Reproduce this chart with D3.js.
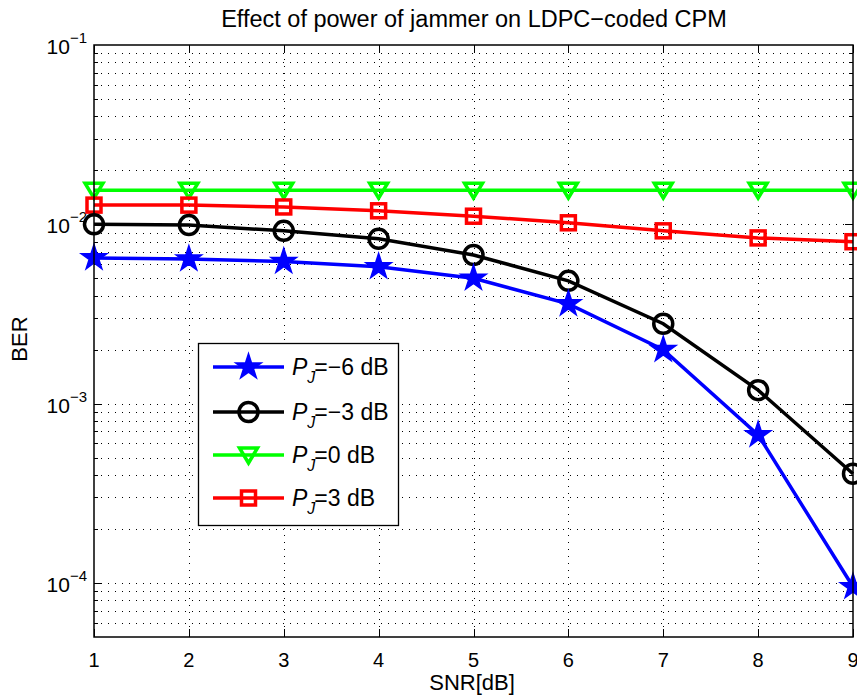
<!DOCTYPE html>
<html>
<head>
<meta charset="UTF-8">
<script src="https://d3js.org/d3.v7.min.js"></script>
<style>
  body { margin: 0; background: #fff; }
  text { font-family: "Liberation Sans", Arial, sans-serif; }
</style>
</head>
<body>
<svg width="857" height="700"></svg>
<script>
  // data
  const snr = [1, 2, 3, 4, 5, 6, 7, 8, 9];
  const berM6 = [0.0065, 0.0064, 0.0062, 0.0058, 0.0050, 0.0036, 0.0020, 0.00067, 0.0000953];
  const berM3 = [0.0100, 0.0099, 0.0092, 0.0083, 0.00675, 0.00484, 0.00279, 0.00119, 0.000407];
  const ber0  = [0.0155, 0.0155, 0.0155, 0.0155, 0.0155, 0.0155, 0.0155, 0.0155, 0.0155];
  const berP3 = [0.0128, 0.0128, 0.0125, 0.0119, 0.0111, 0.0102, 0.0092, 0.0084, 0.0080];
  const xTicks = [1, 2, 3, 4, 5, 6, 7, 8, 9];
  const yDecades = [-4, -3, -2, -1];
  const legendLabels = ["\u22126", "\u22123", "0", "3"];

  const svg = d3.select("svg");
  const pLeft = 94, pRight = 853, pTop = 45, pBottom = 637;

  const x = d3.scaleLinear().domain([1, 9]).range([pLeft, pRight]);
  const y = d3.scaleLog().domain([5e-5, 1e-1]).range([pBottom, pTop]);

  // grid
  const grid = svg.append("g").attr("stroke", "#000").attr("stroke-width", 1)
    .attr("stroke-dasharray", "1,6");
  const minor = [];
  for (let e = -5; e < -1; e++) for (let m = 1; m < 10; m++) {
    const v = m * Math.pow(10, e);
    if (v > 5e-5 && v < 0.1) minor.push(v);
  }
  grid.selectAll("line.h").data(minor).enter().append("line")
    .attr("x1", pLeft).attr("x2", pRight)
    .attr("y1", d => Math.round(y(d)) + 0.5).attr("y2", d => Math.round(y(d)) + 0.5);
  grid.selectAll("line.v").data(xTicks.slice(1, -1)).enter().append("line")
    .attr("y1", pTop).attr("y2", pBottom)
    .attr("x1", d => Math.round(x(d)) + 0.5).attr("x2", d => Math.round(x(d)) + 0.5);

  // ticks (inward, all four sides)
  const ticks = svg.append("g").attr("stroke", "#000").attr("stroke-width", 1);
  minor.forEach(v => {
    const isMajor = Math.abs(Math.log10(v) - Math.round(Math.log10(v))) < 1e-6;
    const len = isMajor ? 8 : 4;
    const yy = Math.round(y(v)) + 0.5;
    ticks.append("line").attr("x1", pLeft).attr("x2", pLeft + len).attr("y1", yy).attr("y2", yy);
    ticks.append("line").attr("x1", pRight).attr("x2", pRight - len).attr("y1", yy).attr("y2", yy);
  });
  xTicks.forEach(v => {
    const xx = Math.round(x(v)) + 0.5;
    ticks.append("line").attr("x1", xx).attr("x2", xx).attr("y1", pBottom).attr("y2", pBottom - 8);
    ticks.append("line").attr("x1", xx).attr("x2", xx).attr("y1", pTop).attr("y2", pTop + 8);
  });

  // axis labels
  svg.selectAll("text.xt").data(xTicks).enter().append("text")
    .attr("x", d => x(d)).attr("y", 667).attr("text-anchor", "middle")
    .attr("font-size", 20).text(d => d);
  yDecades.forEach(e => {
    const t = svg.append("text").attr("x", 87).attr("y", y(Math.pow(10, e)) + 9)
      .attr("text-anchor", "end").attr("font-size", 21);
    t.append("tspan").text("10");
    t.append("tspan").attr("dy", -11).attr("font-size", 15).text("\u2212" + Math.abs(e));
  });

  svg.append("text").attr("x", 472).attr("y", 690).attr("text-anchor", "middle")
    .attr("font-size", 22).text("SNR[dB]");
  svg.append("text").attr("transform", "translate(27,339) rotate(-90)")
    .attr("text-anchor", "middle").attr("font-size", 22).text("BER");
  svg.append("text").attr("x", 474).attr("y", 27).attr("text-anchor", "middle")
    .attr("font-size", 23.5).text("Effect of power of jammer on LDPC\u2212coded CPM");

  // markers
  function marker(g, type, color, cx, cy) {
    if (type === "star") {
      g.append("path").attr("d", d3.symbol().type(d3.symbolStar).size(200)())
        .attr("transform", `translate(${cx},${cy})`).attr("fill", color).attr("stroke", color).attr("stroke-width", 1.5);
    } else if (type === "circle") {
      g.append("circle").attr("cx", cx).attr("cy", cy).attr("r", 9.5)
        .attr("fill", "none").attr("stroke", color).attr("stroke-width", 3.5);
    } else if (type === "tri") {
      g.append("path").attr("d", `M${cx - 9},${cy - 7}L${cx + 9},${cy - 7}L${cx},${cy + 8}Z`)
        .attr("fill", "none").attr("stroke", color).attr("stroke-width", 3.5);
    } else {
      g.append("rect").attr("x", cx - 7).attr("y", cy - 7).attr("width", 14).attr("height", 14)
        .attr("fill", "none").attr("stroke", color).attr("stroke-width", 3.5);
    }
  }

  const series = [
    { vals: berM6, color: "#0000ff", m: "star" },
    { vals: berM3, color: "#000000", m: "circle" },
    { vals: ber0, color: "#00ff00", m: "tri" },
    { vals: berP3, color: "#ff0000", m: "square" }
  ];
  const line = d3.line().x((d, i) => x(snr[i])).y(d => y(d));
  const plot = svg.append("g");
  [series[2], series[3], series[1], series[0]].forEach(s => {
    const g = plot.append("g");
    g.append("path").attr("d", line(s.vals)).attr("fill", "none")
      .attr("stroke", s.color).attr("stroke-width", 3.5);
    s.vals.forEach((v, i) => marker(g, s.m, s.color, x(snr[i]), y(v)));
  });

  // frame
  svg.append("rect").attr("x", pLeft).attr("y", pTop).attr("width", pRight - pLeft).attr("height", pBottom - pTop)
    .attr("fill", "none").attr("stroke", "#000").attr("stroke-width", 1.5);

  // legend
  const lg = svg.append("g");
  lg.append("rect").attr("x", 198.5).attr("y", 343.5).attr("width", 200).attr("height", 182)
    .attr("fill", "#fff").attr("stroke", "#000").attr("stroke-width", 1.3);
  const ly = [367, 412, 455, 498];
  series.forEach((s, i) => {
    lg.append("line").attr("x1", 213).attr("x2", 284).attr("y1", ly[i]).attr("y2", ly[i])
      .attr("stroke", s.color).attr("stroke-width", 3.5);
    marker(lg, s.m, s.color, 248.5, ly[i]);
    const t = lg.append("text").attr("x", 292).attr("y", ly[i] + 8).attr("font-size", 23);
    t.append("tspan").attr("font-style", "italic").text("P");
    t.append("tspan").attr("font-style", "italic").attr("font-size", 16).attr("dy", 8).text("J");
    t.append("tspan").attr("dy", -8).attr("dx", -1).text("=" + legendLabels[i] + " dB");
  });
</script>
</body>
</html>
